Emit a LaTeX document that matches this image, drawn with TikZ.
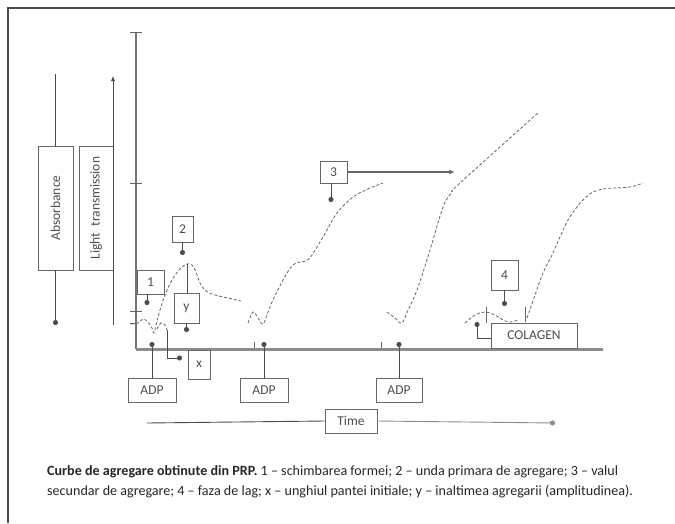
\documentclass[tikz,border=0pt]{standalone}
\usepackage{fontspec}
\setmainfont{Carlito}
\usetikzlibrary{arrows.meta}
\begin{document}
\begin{tikzpicture}[x=1pt,y=-1pt,
  bx/.style={draw=black!60, line width=0.9pt, inner sep=0pt, font=\fontsize{13.5}{14}\selectfont, text=black!70},
  ln/.style={draw=black!70, line width=0.9pt},
  dotarr/.style={ln,-{Circle[length=5pt]}},
  crv/.style={draw=black!60, line width=0.8pt, densely dashed},
  tickmk/.style={draw=black!60, line width=0.8pt},
  captxt/.style={anchor=base west, font=\fontsize{14.1}{16}\selectfont, text=black!85, inner sep=0pt}]
\useasboundingbox (0,0) rectangle (675,523);
% frame (top and left)
\draw[black!70, line width=1.5pt] (8,523) -- (8,8) -- (675,8);

% axes
\draw[draw=black!55, line width=1.4pt] (136,32) coordinate (vtop) -- (136,349) coordinate (origin);
\draw[draw=black!45, line width=3pt] (origin) -- (603,349) coordinate (hend);
\foreach \yy in {32,183,311} \draw[tickmk] (130,\yy) -- (142,\yy);
\draw[tickmk] (130,323) -- (136,323);
\foreach \xx in {254,381} \draw[tickmk] (\xx,342) -- (\xx,348);

% left boxes
\node[bx, minimum width=35pt, minimum height=124pt] (abs) at (55.5,208) {\rotatebox{90}{Absorbance}};
\node[bx, minimum width=34pt, minimum height=124pt] (lt) at (96,208) {\rotatebox{90}{Light\ \ transmission}};
\draw[ln] (abs.north) -- (abs.north |- 0,74) coordinate (abstop);
\draw[dotarr] (abs.south) -- (abs.south |- 0,325) coordinate (absbot);
\draw[ln, -{Latex[length=5pt,width=4.5pt]}] (113,325) coordinate (ltbot) -- (113,76) coordinate (lttop);

% curves
\draw[crv] plot[smooth, tension=0.6] coordinates {(131,324) (138,323) (143,319) (148,322) (152,328) (154,333) (156,325) (160,310) (165,295) (172,280) (180,269) (187,264) (192,265) (196,272) (200,283) (206,291) (215,295) (228,298) (241,301)};
\draw[crv] plot[smooth, tension=0.6] coordinates {(157,329) (161,323) (165,325) (167,330)};
\draw[crv] plot[smooth, tension=0.6] coordinates {(248,323) (253,312) (258,318) (263,324) (268,312) (273,300) (283,280) (292,266) (300,262) (306,261) (312,255) (323,237) (337,213) (353,197) (368,189) (383,183)};
\draw[crv] plot[smooth, tension=0.6] coordinates {(387,312) (395,318) (402,323) (408,310) (417,290) (430,250) (443,207) (452,192) (460,183) (539,112)};
\draw[crv] plot[smooth, tension=0.6] coordinates {(465,323) (475,315) (485,312) (495,315) (503,320) (510,322) (518,320)};
\draw[tickmk] (486,307) -- (486,323);
\draw[tickmk] (525,307) -- (525,322);
\draw[crv] plot[smooth, tension=0.6] coordinates {(527,318) (535,295) (543,273) (552,255) (560,237) (568,220) (577,207) (585,198) (593,192) (603,189) (613,188) (630,187) (643,183)};

% label boxes
\node[bx, minimum width=27pt, minimum height=24pt] (b1) at (150.5,282) {1};
\node[bx, minimum width=21pt, minimum height=26pt] (b2) at (182.5,229) {2};
\node[bx, minimum width=25pt, minimum height=30pt] (by) at (186.5,308) {y};
\node[bx, minimum width=22pt, minimum height=29pt] (bxx) at (199,364.5) {x};
\node[bx, minimum width=27pt, minimum height=22pt] (b3) at (333.5,172) {3};
\node[bx, minimum width=27pt, minimum height=30pt] (b4) at (504.5,275) {4};
\node[bx, minimum width=86pt, minimum height=25pt] (col) at (534,335.5) {COLAGEN};
\node[bx, minimum width=48pt, minimum height=24pt] (adp1) at (152,390) {ADP};
\node[bx, minimum width=48pt, minimum height=24pt] (adp2) at (264,390) {ADP};
\node[bx, minimum width=46pt, minimum height=24pt] (adp3) at (399,390) {ADP};
\node[bx, minimum width=52pt, minimum height=24pt] (time) at (351,421) {Time};

% connectors
\draw[dotarr] (b1.south -| 147,0) -- (147,305) coordinate (d1);
\draw[dotarr] (b2.south) -- (b2.south |- 0,255) coordinate (d2);
\draw[ln] (187,264) coordinate (peak) -- (peak |- by.north);
\draw[dotarr] (by.south) -- (by.south |- 0,332) coordinate (dy);
\draw[dotarr] (167,330) coordinate (xs) -- (167,358) -- (182,358) coordinate (dx);
\draw[dotarr] (adp1.north) -- (adp1.north |- 0,342) coordinate (da1);
\draw[dotarr] (adp2.north) -- (adp2.north |- 0,342) coordinate (da2);
\draw[dotarr] (adp3.north) -- (adp3.north |- 0,342) coordinate (da3);
\draw[ln] (147,423) coordinate (t0) -- (time.west);
\draw[draw=black!45, line width=0.9pt, -{Circle[length=5pt]}] (time.east) -- (555,423) coordinate (t1);
\draw[draw=black!60, line width=2pt, -{Latex[length=6pt,width=5pt]}] (b3.east) -- (455,172) coordinate (d3r);
\draw[dotarr] (b3.south -| 331,0) -- (331,202) coordinate (d3);
\draw[dotarr] (b4.south) -- (b4.south |- 0,306) coordinate (d4);
\draw[dotarr] (col.west |- 0,338) -- (477,338) -- (477,322) coordinate (dc);

% caption
\node[captxt] (cap1) at (47,475) {\textbf{Curbe de agregare obtinute din PRP.} 1 – schimbarea formei; 2 – unda primara de agregare; 3 – valul};
\node[captxt] (cap2) at (47,495) {secundar de agregare; 4 – faza de lag; x – unghiul pantei initiale; y – inaltimea agregarii (amplitudinea).};
\end{tikzpicture}
\end{document}
